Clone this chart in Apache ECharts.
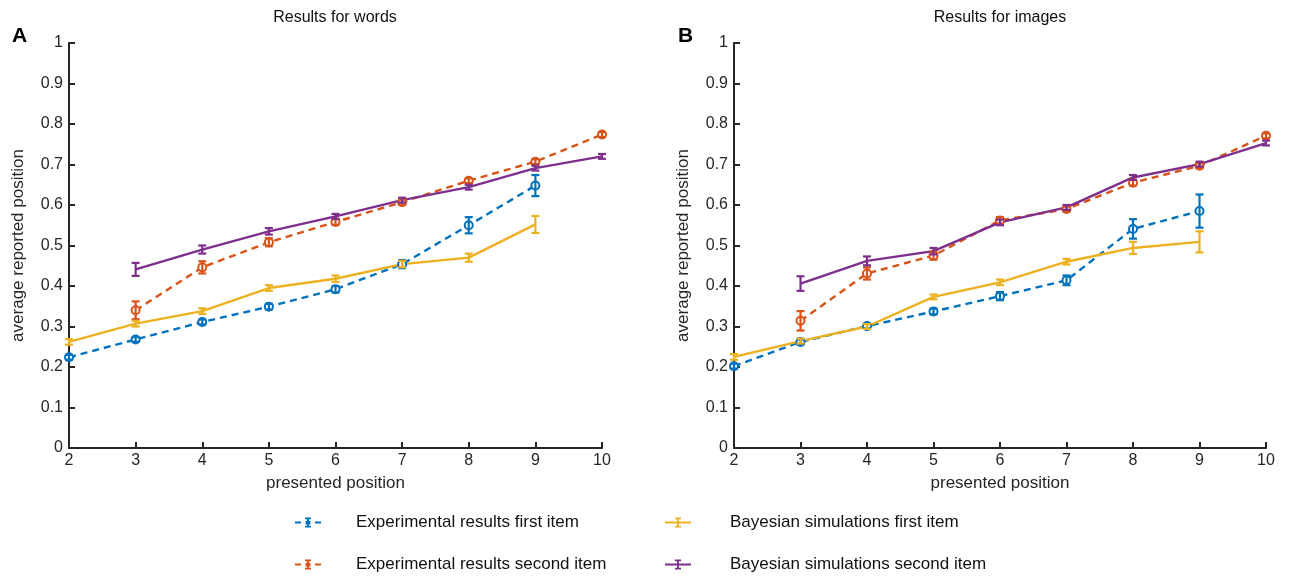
<!DOCTYPE html>
<html>
<head>
<meta charset="utf-8">
<script src="https://cdn.jsdelivr.net/npm/echarts@6/dist/echarts.min.js"></script>
<style>html,body{margin:0;padding:0;background:#fff}#c{width:1291px;height:576px}</style>
</head>
<body>
<div id="c"></div>
<script>
// ---- data ----
const posFirst = [2, 3, 4, 5, 6, 7, 8, 9];
const posSecond = [3, 4, 5, 6, 7, 8, 9, 10];
const xTicks = [2, 3, 4, 5, 6, 7, 8, 9, 10];

// Words (panel A)
const wordsExpFirst     = [0.224, 0.268, 0.311, 0.349, 0.392, 0.454, 0.550, 0.648];
const wordsExpFirstErr  = [0.006, 0.006, 0.006, 0.007, 0.008, 0.010, 0.020, 0.026];
const wordsExpSecond    = [0.340, 0.446, 0.508, 0.558, 0.607, 0.660, 0.707, 0.774];
const wordsExpSecondErr = [0.022, 0.015, 0.010, 0.007, 0.006, 0.006, 0.006, 0.006];
const wordsBayFirst     = [0.262, 0.307, 0.338, 0.395, 0.418, 0.454, 0.470, 0.552];
const wordsBayFirstErr  = [0.007, 0.007, 0.007, 0.007, 0.008, 0.008, 0.010, 0.021];
const wordsBaySecond    = [0.441, 0.490, 0.535, 0.572, 0.612, 0.644, 0.691, 0.720];
const wordsBaySecondErr = [0.016, 0.010, 0.008, 0.006, 0.006, 0.006, 0.006, 0.006];

// Images (panel B)
const imgExpFirst     = [0.202, 0.262, 0.301, 0.337, 0.375, 0.414, 0.541, 0.585];
const imgExpFirstErr  = [0.006, 0.006, 0.006, 0.007, 0.010, 0.012, 0.024, 0.041];
const imgExpSecond    = [0.314, 0.431, 0.475, 0.562, 0.590, 0.655, 0.697, 0.771];
const imgExpSecondErr = [0.024, 0.015, 0.010, 0.008, 0.006, 0.007, 0.006, 0.006];
const imgBayFirst     = [0.225, 0.264, 0.300, 0.373, 0.409, 0.460, 0.494, 0.509];
const imgBayFirstErr  = [0.007, 0.006, 0.006, 0.006, 0.007, 0.007, 0.015, 0.026];
const imgBaySecond    = [0.406, 0.462, 0.486, 0.557, 0.594, 0.668, 0.701, 0.753];
const imgBaySecondErr = [0.018, 0.011, 0.008, 0.007, 0.006, 0.006, 0.006, 0.006];

const names = ['Experimental results first item', 'Experimental results second item',
               'Bayesian simulations first item', 'Bayesian simulations second item'];
const colors = ['#0072BD', '#D95319', '#EDB120', '#7E2F8E'];

// ---- chart ----
const FONT = 'Liberation Sans, Arial, sans-serif';
const AX = '#262626';

function pts(xs, ys) { return xs.map((x, i) => [x, ys[i]]); }
function errPts(xs, ys, es) { return xs.map((x, i) => [x, ys[i], es[i]]); }

function errRender(color) {
  return function (params, api) {
    const x = api.value(0), y = api.value(1), e = api.value(2);
    const t = api.coord([x, y + e]);
    const b = api.coord([x, y - e]);
    const hw = 4;
    const st = { stroke: color, lineWidth: 2.2 };
    return {
      type: 'group',
      children: [
        { type: 'line', shape: { x1: t[0], y1: t[1], x2: b[0], y2: b[1] }, style: st },
        { type: 'line', shape: { x1: t[0] - hw, y1: t[1], x2: t[0] + hw, y2: t[1] }, style: st },
        { type: 'line', shape: { x1: b[0] - hw, y1: b[1], x2: b[0] + hw, y2: b[1] }, style: st }
      ]
    };
  };
}

function panelSeries(idx, data) {
  const out = [];
  const xsList = [posFirst, posSecond, posFirst, posSecond];
  data.forEach((d, k) => {
    const dashed = k < 2;
    out.push({
      type: 'line',
      name: names[k],
      xAxisIndex: idx, yAxisIndex: idx,
      data: pts(xsList[k], d[0]),
      symbol: dashed ? 'emptyCircle' : 'none',
      symbolSize: 8,
      showSymbol: dashed,
      lineStyle: { color: colors[k], width: 2.4, type: dashed ? [7, 5] : 'solid' },
      itemStyle: { color: colors[k], borderWidth: 1.5 },
      emphasis: { disabled: true },
      z: 3
    });
    out.push({
      type: 'custom',
      name: 'err' + idx + '_' + k,
      xAxisIndex: idx, yAxisIndex: idx,
      data: errPts(xsList[k], d[0], d[1]),
      encode: { x: 0, y: 1 },
      renderItem: errRender(colors[k]),
      z: 4
    });
  });
  return out;
}

function xAxis(idx) {
  return {
    type: 'value', gridIndex: idx, min: 2, max: 10, interval: 1,
    name: 'presented position', nameLocation: 'middle', nameGap: 27,
    nameTextStyle: { fontSize: 17, color: AX, fontFamily: FONT },
    axisLine: { show: true, onZero: false, lineStyle: { color: AX, width: 2 } },
    axisTick: { show: true, inside: true, length: 6, lineStyle: { color: AX, width: 2 } },
    axisLabel: { fontSize: 16, color: AX, fontFamily: FONT, margin: 5 },
    splitLine: { show: false }
  };
}
function yAxis(idx) {
  return {
    type: 'value', gridIndex: idx, min: 0, max: 1, interval: 0.1,
    name: 'average reported position', nameLocation: 'middle', nameGap: 42,
    nameTextStyle: { fontSize: 17, color: AX, fontFamily: FONT },
    axisLine: { show: true, onZero: false, lineStyle: { color: AX, width: 2 } },
    axisTick: { show: true, inside: true, length: 6, lineStyle: { color: AX, width: 2 } },
    axisLabel: { fontSize: 16, color: AX, fontFamily: FONT, margin: 6 },
    splitLine: { show: false }
  };
}

// legend glyphs: line with error-bar marker (26 x 10 box)
const ICON_DASHED = 'path://M0,4.1h6v2h-6z M20,4.1h6v2h-6z M10,0h6v1.7h-6z M12.1,0h1.8v10h-1.8z M10,8.3h6v1.7h-6z M10.6,3.2h4.8v3.8h-4.8z';
const ICON_SOLID = 'path://M0,4.1h26v2h-26z M10,0h6v1.7h-6z M12.1,0h1.8v10h-1.8z M10,8.3h6v1.7h-6z';

function legendData(ks) {
  return ks.map(k => ({
    name: names[k],
    icon: k < 2 ? ICON_DASHED : ICON_SOLID,
    itemStyle: { color: colors[k], borderWidth: 0 }
  }));
}

const chart = echarts.init(document.getElementById('c'), null, { renderer: 'canvas' });
const legendCommon = {
  orient: 'vertical', itemWidth: 26, itemHeight: 11, itemGap: 25, padding: 0,
  selectedMode: false
};
chart.setOption({
  animation: false,
  backgroundColor: '#fff',
  grid: [
    { left: 69, right: 689, top: 43, bottom: 128 },
    { left: 734, right: 25, top: 43, bottom: 128 }
  ],
  xAxis: [xAxis(0), xAxis(1)],
  yAxis: [yAxis(0), yAxis(1)],
  legend: [
    Object.assign({ left: 295, top: 514, data: legendData([0, 1]),
      textStyle: { fontSize: 17, color: '#111', fontFamily: FONT, padding: [0, 0, 0, 30] } }, legendCommon),
    Object.assign({ left: 665, top: 514, data: legendData([2, 3]),
      textStyle: { fontSize: 17, color: '#111', fontFamily: FONT, padding: [0, 0, 0, 34] } }, legendCommon)
  ],
  graphic: [
    { type: 'text', x: 335, y: 18, style: { text: 'Results for words', textAlign: 'center', textVerticalAlign: 'middle', font: '16px ' + FONT, fill: '#111' } },
    { type: 'text', x: 1000, y: 18, style: { text: 'Results for images', textAlign: 'center', textVerticalAlign: 'middle', font: '16px ' + FONT, fill: '#111' } },
    { type: 'text', x: 12, y: 36, style: { text: 'A', textVerticalAlign: 'middle', font: 'bold 21px ' + FONT, fill: '#000' } },
    { type: 'text', x: 678, y: 36, style: { text: 'B', textVerticalAlign: 'middle', font: 'bold 21px ' + FONT, fill: '#000' } }
  ],
  series: [].concat(
    panelSeries(0, [[wordsExpFirst, wordsExpFirstErr], [wordsExpSecond, wordsExpSecondErr],
                    [wordsBayFirst, wordsBayFirstErr], [wordsBaySecond, wordsBaySecondErr]]),
    panelSeries(1, [[imgExpFirst, imgExpFirstErr], [imgExpSecond, imgExpSecondErr],
                    [imgBayFirst, imgBayFirstErr], [imgBaySecond, imgBaySecondErr]])
  )
});
</script>
</body>
</html>
